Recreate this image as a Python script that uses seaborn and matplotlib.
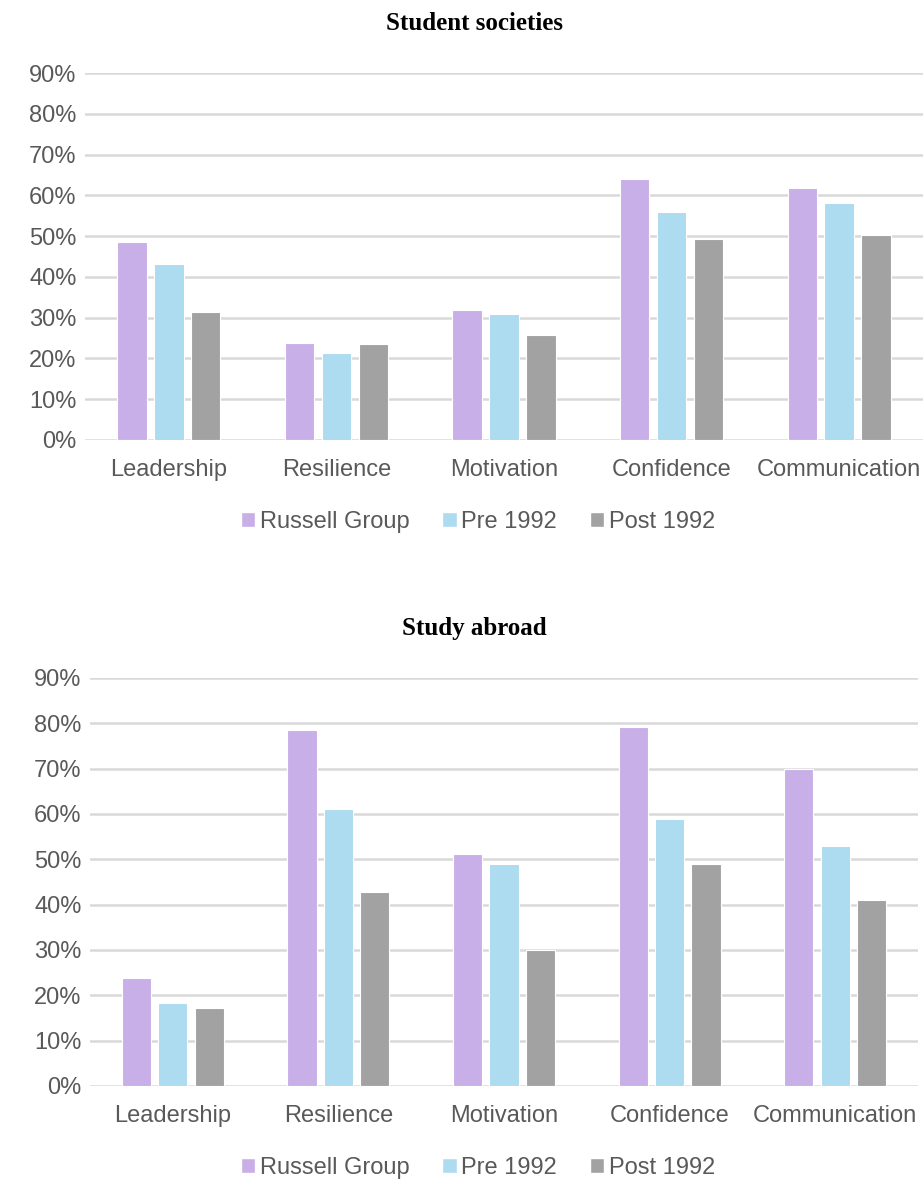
import pandas as pd
import numpy as np
import matplotlib
matplotlib.use("Agg")
import matplotlib.pyplot as plt
import seaborn as sns
from matplotlib.ticker import PercentFormatter
from matplotlib.patches import Patch

sns.set_theme(style="white")
plt.rcParams["font.family"] = ["Liberation Sans Narrow", "Liberation Sans", "DejaVu Sans"]

skills = ["Leadership", "Resilience", "Motivation", "Confidence", "Communication"]
groups = ["Russell Group", "Pre 1992", "Post 1992"]
colors = ["#C9AFE7", "#ADDBEF", "#A2A2A2"]

# values in %
societies_rg = [48.6, 23.7, 31.9, 64.0, 61.7]
societies_pre = [43.2, 21.4, 31.0, 55.8, 58.0]
societies_post = [31.5, 23.5, 25.8, 49.4, 50.3]

abroad_rg = [23.9, 78.5, 51.1, 79.3, 70.0]
abroad_pre = [18.3, 61.1, 48.9, 59.0, 53.0]
abroad_post = [17.3, 42.8, 30.0, 49.0, 41.1]

yticks = np.arange(0, 100, 10)


def make_df(rg, pre, post):
    rows = []
    for vals, g in zip([rg, pre, post], groups):
        for s, v in zip(skills, vals):
            rows.append({"skill": s, "group": g, "value": v})
    return pd.DataFrame(rows)


def draw(ax, df, title, title_y, legend_y):
    sns.barplot(data=df, x="skill", y="value", hue="group", order=skills,
                hue_order=groups, palette=colors, saturation=1,
                width=0.66, gap=0.2, edgecolor="white", linewidth=0.8,
                ax=ax, legend=False, zorder=3)
    ax.set_ylim(0, 90)
    ax.set_xlim(-0.5, 4.5)
    ax.set_yticks(yticks)
    ax.yaxis.set_major_formatter(PercentFormatter(decimals=0))
    ax.grid(axis="y", color="#D9D9D9", linewidth=1.8, zorder=0)
    ax.set_axisbelow(True)
    for s in ax.spines.values():
        s.set_visible(False)
    ax.set_xlabel("")
    ax.set_ylabel("")
    ax.tick_params(axis="both", length=0, labelsize=17, colors="#595959")
    ax.tick_params(axis="x", pad=14)
    ax.tick_params(axis="y", pad=6)
    fig.text(474 / 923, title_y, title, ha="center", va="center",
             fontsize=18, fontweight="bold", color="black",
             family=["Liberation Serif", "DejaVu Serif"])
    handles = [Patch(facecolor=c, label=g) for c, g in zip(colors, groups)]
    fig.legend(handles=handles, loc="center", bbox_to_anchor=(478 / 923, legend_y),
               ncol=3, frameon=False, fontsize=17, labelcolor="#595959",
               handlelength=0.6, handleheight=0.6, handletextpad=0.2,
               columnspacing=1.4)


fig = plt.figure(figsize=(9.23, 11.8), dpi=100)
ax1 = fig.add_axes([85 / 923, 1 - 440 / 1180, (923 - 85) / 923, (440 - 73) / 1180])
ax2 = fig.add_axes([90 / 923, 1 - 1086 / 1180, (918 - 90) / 923, (1086 - 678) / 1180])

draw(ax1, make_df(societies_rg, societies_pre, societies_post),
     "Student societies", 1 - 24 / 1180, 1 - 522 / 1180)
draw(ax2, make_df(abroad_rg, abroad_pre, abroad_post),
     "Study abroad", 1 - 629 / 1180, 1 - 1168 / 1180)

fig.savefig("out.png", dpi=100)
